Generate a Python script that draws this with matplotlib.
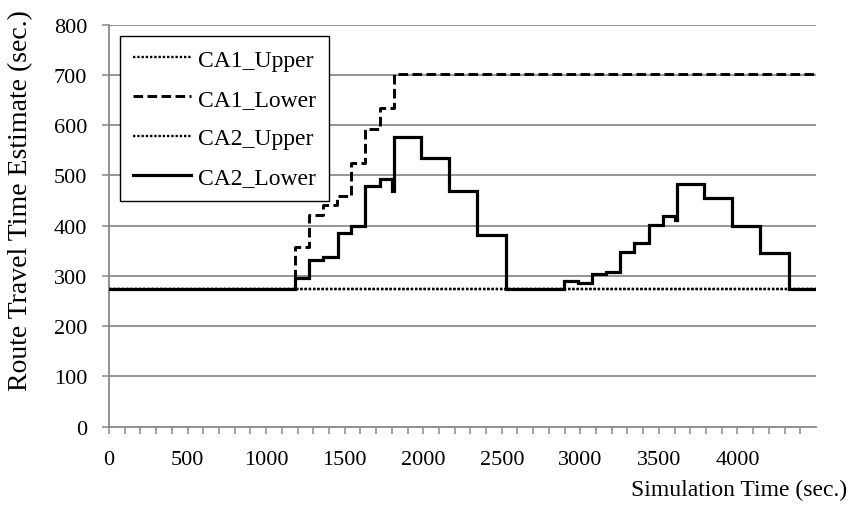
import matplotlib
matplotlib.use("Agg")
import matplotlib.pyplot as plt
from matplotlib.ticker import FixedLocator, NullFormatter

plt.rcParams['font.family'] = ['Liberation Serif', 'DejaVu Serif']

# ---- data ----
upper_t = [0, 4500]
ca1_upper = [275, 275]
ca2_upper = [275, 275]

ca1_lower_t = [0, 1182, 1272, 1360, 1452, 1543, 1632, 1723, 1814, 4500]
ca1_lower = [275, 358, 422, 442, 460, 525, 593, 635, 702, 702]

ca2_lower_t = [0, 1182, 1272, 1360, 1455, 1543, 1632, 1723, 1800, 1814,
               1983, 2164, 2344, 2524, 2893, 2984, 3073, 3164, 3253, 3344,
               3435, 3524, 3603, 3615, 3785, 3965, 4145, 4325, 4500]
ca2_lower = [275, 295, 331, 337, 385, 400, 480, 492, 469, 577,
             535, 470, 381, 275, 290, 285, 304, 307, 348, 365,
             402, 420, 411, 482, 456, 399, 345, 275, 275]

x_major = [0, 500, 1000, 1500, 2000, 2500, 3000, 3500, 4000]
x_minor = [v for v in range(0, 4500, 100) if v not in x_major]
y_ticks = [0, 100, 200, 300, 400, 500, 600, 700, 800]

W, H = 849, 506
fig = plt.figure(figsize=(W / 100, H / 100), dpi=100)
L, R, T, B = 109, 816, 25.7, 427.7
ax = fig.add_axes([L / W, 1 - B / H, (R - L) / W, (B - T) / H])

gray = '#888888'
for v in y_ticks[1:]:
    ax.axhline(v, color='#8c8c8c', lw=1.3, zorder=1)

dot_style = (0, (1.0, 0.8))
ax.step(upper_t, ca1_upper, where='post', color='black', lw=1.7,
        linestyle=dot_style, dash_capstyle='butt', label='CA1_Upper', zorder=3)
ax.step(ca1_lower_t, ca1_lower, where='post', color='black', lw=2.1,
        linestyle=(0, (3.3, 1.5)), label='CA1_Lower', zorder=4)
ax.step(upper_t, ca2_upper, where='post', color='black', lw=1.7,
        linestyle=dot_style, dash_capstyle='butt', label='CA2_Upper', zorder=3)
ax.step(ca2_lower_t, ca2_lower, where='post', color='black', lw=2.3,
        solid_joinstyle='miter', label='CA2_Lower', zorder=5)

ax.set_xlim(0, 4500)
ax.set_ylim(0, 800)
for s in ['top', 'right']:
    ax.spines[s].set_visible(False)
for s in ['left', 'bottom']:
    ax.spines[s].set_color(gray)
    ax.spines[s].set_linewidth(1.3)

ax.xaxis.set_major_locator(FixedLocator(x_major))
ax.xaxis.set_minor_locator(FixedLocator(x_minor))
ax.xaxis.set_minor_formatter(NullFormatter())
ax.set_xticklabels([str(v) for v in x_major])
ax.set_yticks(y_ticks)
ax.set_yticklabels([str(v) for v in y_ticks])

ax.tick_params(axis='x', which='both', direction='out', length=5, width=1.1,
               color=gray, labelsize=16, pad=11.5)
ax.tick_params(axis='y', which='major', direction='out', length=5.3, width=1.1,
               color=gray, labelsize=16, pad=10.5)

fig.text(847 / W, 1 - 496 / H, 'Simulation Time (sec.)', ha='right', va='baseline',
         fontsize=17)
fig.text(21 / W, 1 - 201 / H, 'Route Travel Time Estimate (sec.)', rotation=90,
         ha='center', va='center', fontsize=20)

leg = fig.legend(loc='upper left', bbox_to_anchor=(120 / W, 1 - 37 / H),
                 fontsize=17, frameon=True, fancybox=False, framealpha=1,
                 edgecolor='black', handlelength=2.45, handletextpad=0.3,
                 labelspacing=0.75, borderpad=0.55, borderaxespad=0)
leg.get_frame().set_linewidth(1.0)

fig.savefig('out.png', dpi=100)
